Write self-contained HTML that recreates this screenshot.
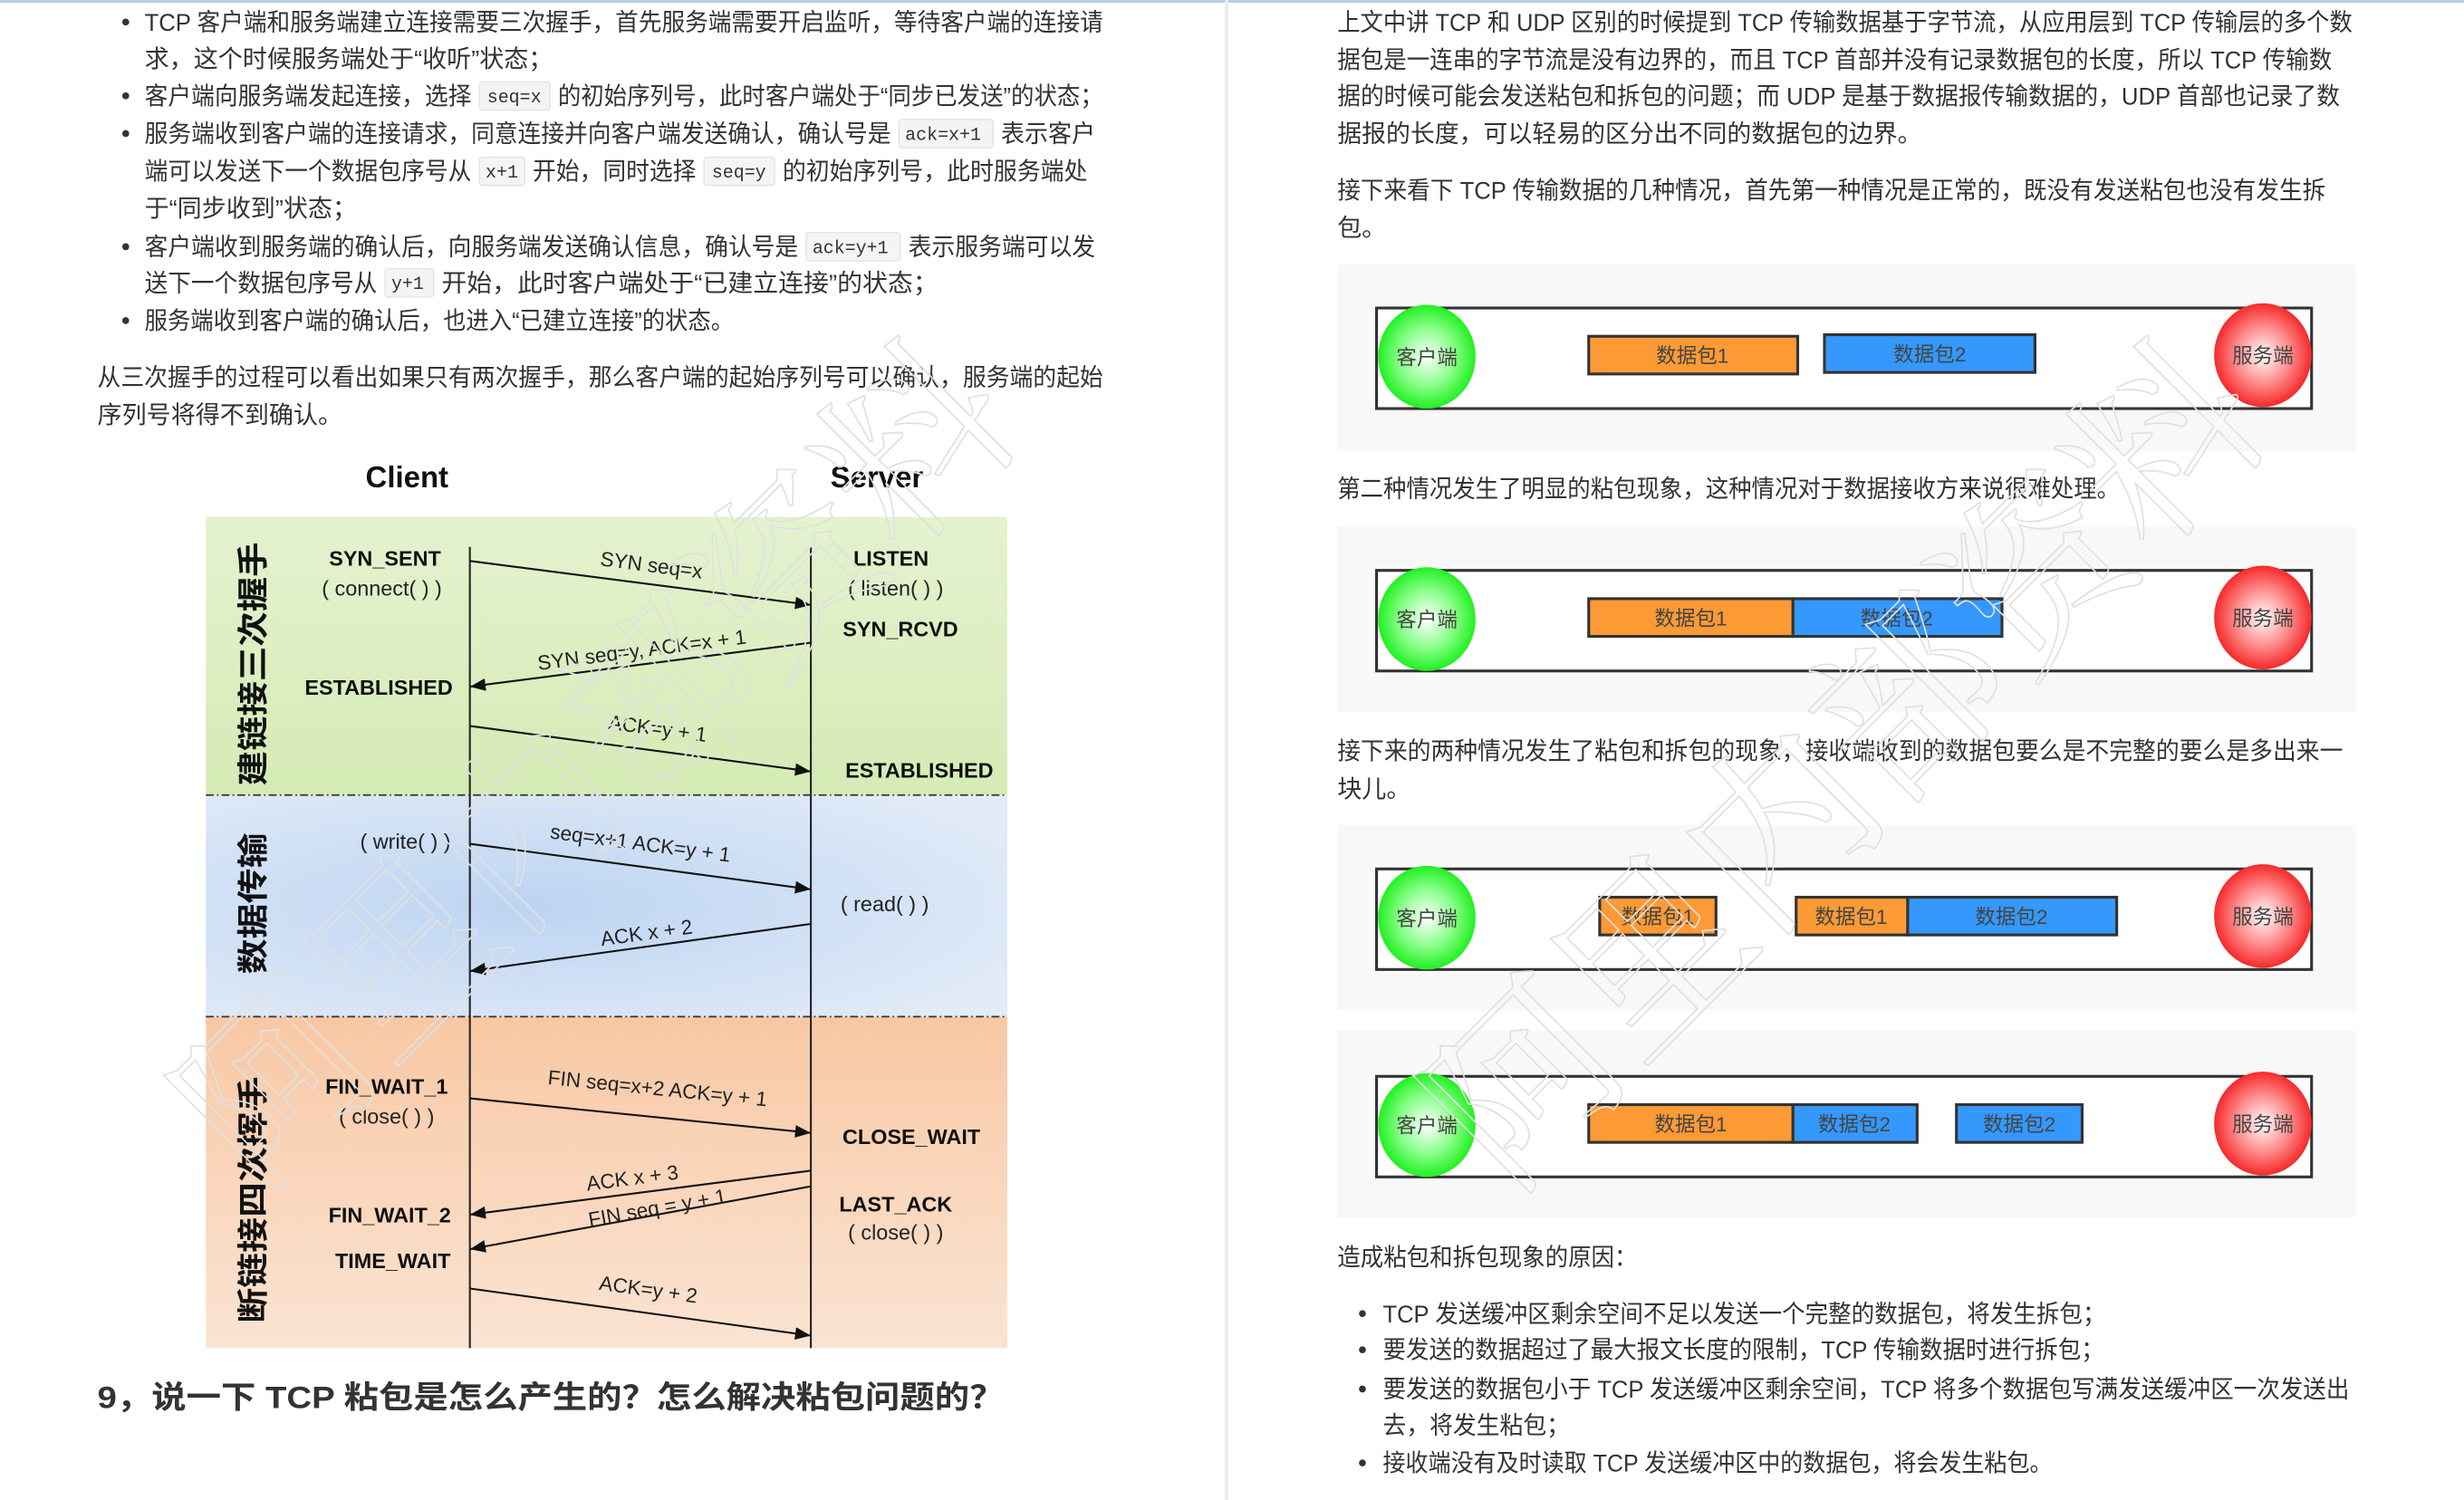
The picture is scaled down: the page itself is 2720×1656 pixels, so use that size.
<!DOCTYPE html>
<html><head><meta charset="utf-8">
<style>
html,body{margin:0;padding:0;background:#fff;}
svg{display:block;}
.t{font-family:"Liberation Sans","Noto Sans CJK SC",sans-serif;font-size:15.6px;fill:#333;}
.c{font-family:"Liberation Mono",monospace;font-size:11.5px;fill:#333;}
.d{font-family:"Liberation Sans","Noto Sans CJK SC",sans-serif;font-weight:bold;fill:#111;}
.n{font-family:"Liberation Sans","Noto Sans CJK SC",sans-serif;fill:#222;}
.p{font-family:"Liberation Sans","Noto Sans CJK SC",sans-serif;font-size:13px;fill:#444;text-anchor:middle;}
.wm{font-family:"Noto Serif CJK SC","Liberation Serif",serif;font-size:120px;fill:none;stroke:#e0e0e0;stroke-width:1;}
</style></head>
<body>
<svg width="2720" height="1656" viewBox="0 0 1568 954.6" xmlns="http://www.w3.org/2000/svg">
<defs>
<radialGradient id="gg" cx="0.5" cy="0.5" r="0.5"><stop offset="0" stop-color="#ffffff"/><stop offset="0.55" stop-color="#8cff8c"/><stop offset="1" stop-color="#22f022"/></radialGradient>
<radialGradient id="rg" cx="0.5" cy="0.5" r="0.5"><stop offset="0" stop-color="#ffffff"/><stop offset="0.55" stop-color="#ff8c8c"/><stop offset="1" stop-color="#f52a2a"/></radialGradient>
<linearGradient id="green" x1="0" y1="0" x2="0" y2="1"><stop offset="0" stop-color="#e4f2cf"/><stop offset="1" stop-color="#d5ebb5"/></linearGradient>
<radialGradient id="blue" cx="0.4" cy="0.5" r="0.7"><stop offset="0" stop-color="#bcd4f2"/><stop offset="1" stop-color="#e2ebf8"/></radialGradient>
<linearGradient id="orange" x1="0" y1="0" x2="0" y2="1"><stop offset="0" stop-color="#f8c8a4"/><stop offset="1" stop-color="#fbe4d3"/></linearGradient>
<marker id="ah" markerWidth="10" markerHeight="8" refX="10" refY="4" orient="auto" markerUnits="userSpaceOnUse"><path d="M0,0 L10,4 L0,8 z" fill="#111"/></marker>
</defs>

<rect x="0" y="0" width="1568" height="1.7" fill="#b8cbe4"/>
<rect x="779.5" y="0" width="2.3" height="954.6" fill="#e8eef6"/>

<g class="t">
<circle cx="80" cy="14" r="2.2" fill="#333"/>
<text x="92" y="19.5" textLength="610" lengthAdjust="spacingAndGlyphs">TCP 客户端和服务端建立连接需要三次握手，首先服务端需要开启监听，等待客户端的连接请</text>
<text x="92" y="43">求，这个时候服务端处于“收听”状态；</text>

<circle cx="80" cy="61" r="2.2" fill="#333"/>
<text x="92" y="66.5" textLength="208" lengthAdjust="spacingAndGlyphs">客户端向服务端发起连接，选择</text>
<rect x="305" y="52" width="45" height="18" rx="2" fill="#f3f4f4" stroke="#e1e1e1" stroke-width="0.7"/>
<text class="c" x="310" y="65">seq=x</text>
<text x="355" y="66.5" textLength="347" lengthAdjust="spacingAndGlyphs">的初始序列号，此时客户端处于“同步已发送”的状态；</text>

<circle cx="80" cy="85" r="2.2" fill="#333"/>
<text x="92" y="90.5" textLength="475" lengthAdjust="spacingAndGlyphs">服务端收到客户端的连接请求，同意连接并向客户端发送确认，确认号是</text>
<rect x="572" y="76" width="60" height="18" rx="2" fill="#f3f4f4" stroke="#e1e1e1" stroke-width="0.7"/>
<text class="c" x="576" y="89">ack=x+1</text>
<text x="637" y="90.5" textLength="60" lengthAdjust="spacingAndGlyphs">表示客户</text>
<text x="92" y="114.5" textLength="208" lengthAdjust="spacingAndGlyphs">端可以发送下一个数据包序号从</text>
<rect x="305" y="100" width="29" height="18" rx="2" fill="#f3f4f4" stroke="#e1e1e1" stroke-width="0.7"/>
<text class="c" x="309" y="113">x+1</text>
<text x="339" y="114.5" textLength="104" lengthAdjust="spacingAndGlyphs">开始，同时选择</text>
<rect x="448" y="100" width="45" height="18" rx="2" fill="#f3f4f4" stroke="#e1e1e1" stroke-width="0.7"/>
<text class="c" x="453" y="113">seq=y</text>
<text x="498" y="114.5" textLength="194" lengthAdjust="spacingAndGlyphs">的初始序列号，此时服务端处</text>
<text x="92" y="138">于“同步收到”状态；</text>

<circle cx="80" cy="157" r="2.2" fill="#333"/>
<text x="92" y="162.5" textLength="416" lengthAdjust="spacingAndGlyphs">客户端收到服务端的确认后，向服务端发送确认信息，确认号是</text>
<rect x="513" y="148" width="60" height="18" rx="2" fill="#f3f4f4" stroke="#e1e1e1" stroke-width="0.7"/>
<text class="c" x="517" y="161">ack=y+1</text>
<text x="578" y="162.5" textLength="119" lengthAdjust="spacingAndGlyphs">表示服务端可以发</text>
<text x="92" y="185.5" textLength="148" lengthAdjust="spacingAndGlyphs">送下一个数据包序号从</text>
<rect x="245" y="171" width="31" height="18" rx="2" fill="#f3f4f4" stroke="#e1e1e1" stroke-width="0.7"/>
<text class="c" x="249" y="184">y+1</text>
<text x="281" y="185.5" textLength="316" lengthAdjust="spacingAndGlyphs">开始，此时客户端处于“已建立连接”的状态；</text>

<circle cx="80" cy="204" r="2.2" fill="#333"/>
<text x="92" y="209.5" textLength="375" lengthAdjust="spacingAndGlyphs">服务端收到客户端的确认后，也进入“已建立连接”的状态。</text>

<text x="62" y="245.5" textLength="640" lengthAdjust="spacingAndGlyphs">从三次握手的过程可以看出如果只有两次握手，那么客户端的起始序列号可以确认，服务端的起始</text>
<text x="62" y="269.5">序列号将得不到确认。</text>
</g>

<text class="d" x="259" y="310" font-size="19" text-anchor="middle">Client</text>
<text class="d" x="558" y="310" font-size="19" text-anchor="middle">Server</text>
<rect x="131" y="329" width="510" height="177" fill="url(#green)"/>
<rect x="131" y="506" width="510" height="141" fill="url(#blue)"/>
<rect x="131" y="647" width="510" height="211" fill="url(#orange)"/>
<line x1="131" y1="506" x2="641" y2="506" stroke="#333" stroke-width="1" stroke-dasharray="5,2,1,2"/>
<line x1="131" y1="647" x2="641" y2="647" stroke="#333" stroke-width="1" stroke-dasharray="5,2,1,2"/>
<line x1="299" y1="348" x2="299" y2="858" stroke="#222" stroke-width="1.2"/>
<line x1="516" y1="348" x2="516" y2="858" stroke="#222" stroke-width="1.2"/>

<g stroke="#111" stroke-width="1.2" marker-end="url(#ah)">
<line x1="299" y1="357" x2="516" y2="385"/>
<line x1="516" y1="409" x2="299" y2="437"/>
<line x1="299" y1="462" x2="516" y2="491"/>
<line x1="299" y1="537" x2="516" y2="566"/>
<line x1="516" y1="588" x2="299" y2="618"/>
<line x1="299" y1="699" x2="516" y2="721"/>
<line x1="516" y1="745" x2="299" y2="773"/>
<line x1="516" y1="755" x2="299" y2="795"/>
<line x1="299" y1="820" x2="516" y2="850"/>
</g>

<g class="n" font-size="13">
<text transform="translate(414,364) rotate(7.3)" text-anchor="middle">SYN seq=x</text>
<text transform="translate(409,418) rotate(-7.3)" text-anchor="middle">SYN seq=y, ACK=x + 1</text>
<text transform="translate(418,468) rotate(7.5)" text-anchor="middle">ACK=y + 1</text>
<text transform="translate(407,541) rotate(7.5)" text-anchor="middle">seq=x+1 ACK=y + 1</text>
<text transform="translate(412,598) rotate(-7.8)" text-anchor="middle">ACK x + 2</text>
<text transform="translate(418,697) rotate(5.8)" text-anchor="middle">FIN seq=x+2 ACK=y + 1</text>
<text transform="translate(403,754) rotate(-7.3)" text-anchor="middle">ACK x + 3</text>
<text transform="translate(419,773) rotate(-10)" text-anchor="middle">FIN seq = y + 1</text>
<text transform="translate(412,825) rotate(7.8)" text-anchor="middle">ACK=y + 2</text>
</g>

<g class="d" font-size="13.5" text-anchor="middle">
<text x="245" y="360">SYN_SENT</text>
<text x="241" y="442">ESTABLISHED</text>
<text x="567" y="360">LISTEN</text>
<text x="573" y="405">SYN_RCVD</text>
<text x="585" y="495">ESTABLISHED</text>
<text x="246" y="696">FIN_WAIT_1</text>
<text x="248" y="778">FIN_WAIT_2</text>
<text x="250" y="807">TIME_WAIT</text>
<text x="580" y="728">CLOSE_WAIT</text>
<text x="570" y="771">LAST_ACK</text>
</g>
<g class="n" font-size="13.5" text-anchor="middle">
<text x="243" y="379">( connect( ) )</text>
<text x="570" y="379">( listen( ) )</text>
<text x="258" y="540">( write( ) )</text>
<text x="563" y="580">( read( ) )</text>
<text x="246" y="715">( close( ) )</text>
<text x="570" y="789">( close( ) )</text>
</g>
<g class="d" font-size="20">
<text transform="translate(168,500) rotate(-90)" textLength="155" lengthAdjust="spacingAndGlyphs">建链接三次握手</text>
<text transform="translate(168,620) rotate(-90)" textLength="90" lengthAdjust="spacingAndGlyphs">数据传输</text>
<text transform="translate(168,842) rotate(-90)" textLength="157" lengthAdjust="spacingAndGlyphs">断链接四次挥手</text>
</g>

<text x="62" y="896" font-size="20" font-weight="bold" font-family="Liberation Sans, Noto Sans CJK SC, sans-serif" fill="#333" textLength="577" lengthAdjust="spacingAndGlyphs">9，说一下 TCP 粘包是怎么产生的？怎么解决粘包问题的？</text>

<g class="t">
<text x="851" y="19.5" textLength="646" lengthAdjust="spacingAndGlyphs">上文中讲 TCP 和 UDP 区别的时候提到 TCP 传输数据基于字节流，从应用层到 TCP 传输层的多个数</text>
<text x="851" y="43.5" textLength="633" lengthAdjust="spacingAndGlyphs">据包是一连串的字节流是没有边界的，而且 TCP 首部并没有记录数据包的长度，所以 TCP 传输数</text>
<text x="851" y="66.5" textLength="638" lengthAdjust="spacingAndGlyphs">据的时候可能会发送粘包和拆包的问题；而 UDP 是基于数据报传输数据的，UDP 首部也记录了数</text>
<text x="851" y="90.5" textLength="372" lengthAdjust="spacingAndGlyphs">据报的长度，可以轻易的区分出不同的数据包的边界。</text>
<text x="851" y="126.5" textLength="629" lengthAdjust="spacingAndGlyphs">接下来看下 TCP 传输数据的几种情况，首先第一种情况是正常的，既没有发送粘包也没有发生拆</text>
<text x="851" y="150.5">包。</text>
<text x="851" y="316.5" textLength="498" lengthAdjust="spacingAndGlyphs">第二种情况发生了明显的粘包现象，这种情况对于数据接收方来说很难处理。</text>
<text x="851" y="483.5" textLength="640" lengthAdjust="spacingAndGlyphs">接下来的两种情况发生了粘包和拆包的现象，接收端收到的数据包要么是不完整的要么是多出来一</text>
<text x="851" y="507.5">块儿。</text>
<text x="851" y="805.5" textLength="191" lengthAdjust="spacingAndGlyphs">造成粘包和拆包现象的原因：</text>
<circle cx="867" cy="836" r="2.2" fill="#333"/>
<text x="880" y="841.5" textLength="460" lengthAdjust="spacingAndGlyphs">TCP 发送缓冲区剩余空间不足以发送一个完整的数据包，将发生拆包；</text>
<circle cx="867" cy="859" r="2.2" fill="#333"/>
<text x="880" y="864.5" textLength="459" lengthAdjust="spacingAndGlyphs">要发送的数据超过了最大报文长度的限制，TCP 传输数据时进行拆包；</text>
<circle cx="867" cy="884" r="2.2" fill="#333"/>
<text x="880" y="889.5" textLength="615" lengthAdjust="spacingAndGlyphs">要发送的数据包小于 TCP 发送缓冲区剩余空间，TCP 将多个数据包写满发送缓冲区一次发送出</text>
<text x="880" y="912.5" textLength="119" lengthAdjust="spacingAndGlyphs">去，将发生粘包；</text>
<circle cx="867" cy="931" r="2.2" fill="#333"/>
<text x="880" y="936.5" textLength="426" lengthAdjust="spacingAndGlyphs">接收端没有及时读取 TCP 发送缓冲区中的数据包，将会发生粘包。</text>
</g>

<g>
<rect x="851" y="168" width="648" height="119" fill="#f8f8f8"/>
<rect x="851" y="335" width="648" height="118" fill="#f8f8f8"/>
<rect x="851" y="525" width="648" height="118" fill="#f8f8f8"/>
<rect x="851" y="656" width="648" height="119" fill="#f8f8f8"/>
</g>
<g fill="#fff" stroke="#333" stroke-width="1.8">
<rect x="876" y="196" width="595" height="64"/>
<rect x="876" y="363" width="595" height="64"/>
<rect x="876" y="553" width="595" height="64"/>
<rect x="876" y="685" width="595" height="64"/>
</g>
<g class="p">
<ellipse cx="908" cy="227" rx="31" ry="33" fill="url(#gg)"/><text x="908" y="232">客户端</text>
<ellipse cx="1440" cy="226" rx="31" ry="33" fill="url(#rg)"/><text x="1440" y="231">服务端</text>
<ellipse cx="908" cy="394" rx="31" ry="33" fill="url(#gg)"/><text x="908" y="399">客户端</text>
<ellipse cx="1440" cy="393" rx="31" ry="33" fill="url(#rg)"/><text x="1440" y="398">服务端</text>
<ellipse cx="908" cy="584" rx="31" ry="33" fill="url(#gg)"/><text x="908" y="589">客户端</text>
<ellipse cx="1440" cy="583" rx="31" ry="33" fill="url(#rg)"/><text x="1440" y="588">服务端</text>
<ellipse cx="908" cy="716" rx="31" ry="33" fill="url(#gg)"/><text x="908" y="721">客户端</text>
<ellipse cx="1440" cy="715" rx="31" ry="33" fill="url(#rg)"/><text x="1440" y="720">服务端</text>

<g stroke="#333" stroke-width="1.8">
<rect x="1011" y="214" width="133" height="24" fill="#fd9a35"/>
<rect x="1161" y="213" width="134" height="24" fill="#3598fd"/>
<rect x="1011" y="381" width="130" height="24" fill="#fd9a35"/>
<rect x="1141" y="381" width="133" height="24" fill="#3598fd"/>
<rect x="1018" y="571" width="74" height="24" fill="#fd9a35"/>
<rect x="1143" y="571" width="71" height="24" fill="#fd9a35"/>
<rect x="1214" y="571" width="133" height="24" fill="#3598fd"/>
<rect x="1011" y="703" width="130" height="24" fill="#fd9a35"/>
<rect x="1141" y="703" width="79" height="24" fill="#3598fd"/>
<rect x="1245" y="703" width="80" height="24" fill="#3598fd"/>
</g>
<text x="1077" y="231">数据包1</text>
<text x="1228" y="230">数据包2</text>
<text x="1076" y="398">数据包1</text>
<text x="1207" y="398">数据包2</text>
<text x="1055" y="588">数据包1</text>
<text x="1178" y="588">数据包1</text>
<text x="1280" y="588">数据包2</text>
<text x="1076" y="720">数据包1</text>
<text x="1180" y="720">数据包2</text>
<text x="1285" y="720">数据包2</text>
</g>

<text class="wm" transform="translate(165,760) rotate(-45)" textLength="690" lengthAdjust="spacingAndGlyphs">阿里内部资料</text>
<text class="wm" transform="translate(960,760) rotate(-45)" textLength="690" lengthAdjust="spacingAndGlyphs">阿里内部资料</text>
</svg>
</body></html>
